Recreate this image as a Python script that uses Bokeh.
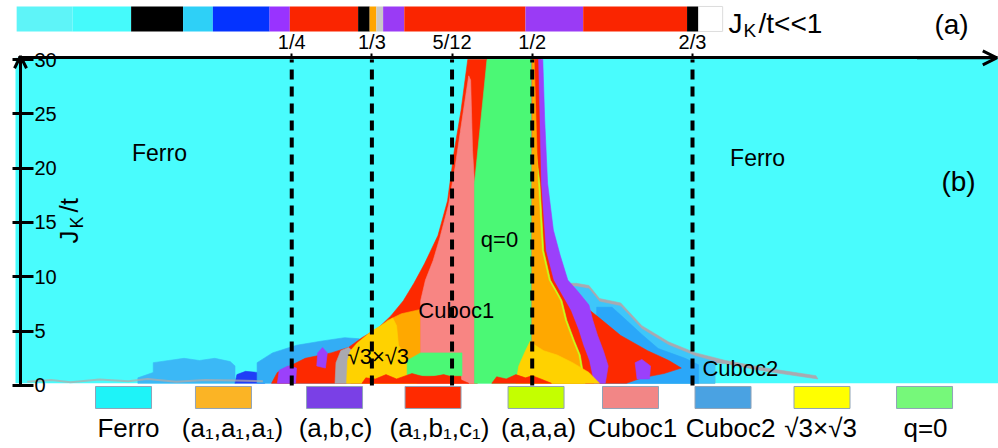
import math

from bokeh.core.properties import value
from bokeh.embed import file_html
from bokeh.models import Arrow, FixedTicker, LinearAxis, OpenHead, Range1d
from bokeh.plotting import figure
from bokeh.resources import INLINE

FONT = "Liberation Sans"

# ---------------------------------------------------------------- axes data
n_ticks = [1 / 4, 1 / 3, 5 / 12, 1 / 2, 2 / 3]
n_tick_labels = ["1/4", "1/3", "5/12", "1/2", "2/3"]
J_ticks = [0, 5, 10, 15, 20, 25, 30]
J_top = 30.15

# ------------------------------------------ (a) ground state for J_K/t << 1
bar_edges = [-0.036, 0.022, 0.083, 0.137, 0.168, 0.227, 0.248, 0.319, 0.331,
             0.338, 0.345, 0.367, 0.493, 0.553, 0.661, 0.673, 0.698]
bar_colors = ["#5ef4f8", "#45fafb", "#000000", "#2ed0f7", "#0433ff", "#9933ff",
              "#fa2500", "#000000", "#ffa500", "#c8c8c8", "#9a3bf5", "#fa2500",
              "#9a3bf5", "#fa2500", "#000000", "#ffffff"]

# ------------------------------------------- (b) phase regions, back to front
# each region: filling n (x) and J_K/t (y) of its outline
blue_far_n = [0.090, 0.090, 0.106, 0.106, 0.122, 0.138, 0.154, 0.170, 0.186, 0.191, 0.191]
blue_far_J = [0.2, 0.7, 1.2, 2.1, 2.3, 2.5, 2.3, 2.5, 2.2, 1.8, 0.2]

blue_deep_n = [0.191, 0.193, 0.202, 0.214, 0.220, 0.222]
blue_deep_J = [0.2, 1.0, 1.3, 1.2, 0.8, 0.2]

cuboc2_left_n = [0.214, 0.214, 0.230, 0.255, 0.282, 0.305, 0.320, 0.329, 0.329]
cuboc2_left_J = [0.2, 2.1, 3.0, 3.7, 4.1, 4.4, 4.3, 3.7, 0.2]

abc1_left_n = [0.433, 0.426, 0.419, 0.412, 0.402, 0.388, 0.377, 0.366, 0.353, 0.340,
               0.323, 0.309, 0.291, 0.264, 0.246, 0.235, 0.229, 0.443, 0.453]
abc1_left_J = [30.0, 25.3, 21.6, 17.0, 13.8, 11.2, 9.4, 7.8, 6.4, 5.3,
               4.4, 3.5, 3.0, 2.5, 1.7, 1.2, 0.2, 0.2, 30.0]

abc_bit1_n = [0.235, 0.237, 0.246, 0.255, 0.254]
abc_bit1_J = [0.2, 1.4, 1.8, 1.6, 0.2]
abc_bit2_n = [0.276, 0.277, 0.282, 0.287, 0.285]
abc_bit2_J = [1.8, 3.0, 3.5, 3.0, 1.6]

gray_left_n = [0.295, 0.296, 0.301, 0.309, 0.313, 0.311]
gray_left_J = [0.2, 2.1, 3.2, 3.5, 3.2, 0.2]

a1_left_n = [0.337, 0.350, 0.364, 0.384, 0.384, 0.353, 0.340]
a1_left_J = [5.1, 6.0, 6.6, 7.0, 2.3, 2.1, 3.7]

sqrt3_left_n = [0.307, 0.308, 0.311, 0.318, 0.333, 0.348, 0.355, 0.359, 0.361, 0.370, 0.379, 0.380]
sqrt3_left_J = [0.2, 2.3, 3.2, 3.9, 5.0, 5.8, 6.2, 5.5, 3.7, 2.5, 1.6, 0.2]

cuboc1_n = [0.434, 0.427, 0.420, 0.413, 0.404, 0.397, 0.389, 0.384, 0.384, 0.424,
            0.427, 0.440, 0.440, 0.438, 0.436]
cuboc1_J = [28.5, 24.4, 20.2, 16.6, 13.6, 11.5, 9.7, 7.8, 3.0, 3.0,
            0.2, 0.2, 18.6, 21.6, 28.1]

q0_n = [0.453, 0.499, 0.499, 0.440, 0.440]
q0_J = [30.0, 30.0, 0.2, 0.2, 18.6]

q0_low_n = [0.370, 0.370, 0.384, 0.427, 0.427]
q0_low_J = [0.9, 2.3, 3.0, 3.0, 0.9]

gray_tail_n = [0.546, 0.559, 0.570, 0.592, 0.614, 0.642, 0.670, 0.701, 0.743, 0.795,
               0.797, 0.743, 0.701, 0.690, 0.690, 0.537, 0.537]
gray_tail_J = [9.4, 9.2, 8.0, 7.6, 5.5, 4.0, 3.0, 2.3, 1.6, 0.9,
               0.6, 1.3, 2.0, 2.1, 0.2, 0.2, 9.4]

cuboc2_light_n = [0.546, 0.559, 0.570, 0.592, 0.614, 0.642, 0.670, 0.690, 0.690, 0.537, 0.537]
cuboc2_light_J = [9.1, 8.9, 7.7, 7.3, 5.2, 3.7, 2.7, 2.2, 0.2, 0.2, 9.1]

cuboc2_right_n = [0.567, 0.583, 0.598, 0.614, 0.631, 0.659, 0.673, 0.673, 0.567]
cuboc2_right_J = [7.2, 7.2, 6.0, 4.7, 3.4, 2.5, 1.9, 0.2, 0.2]

abc1_right_n = [0.509, 0.512, 0.518, 0.526, 0.539, 0.553, 0.570, 0.592, 0.620, 0.642,
                0.655, 0.637, 0.614, 0.598, 0.500, 0.500]
abc1_right_J = [30.0, 18.6, 13.3, 10.6, 8.7, 7.4, 6.2, 4.6, 3.2, 2.3,
                1.6, 1.1, 0.7, 0.2, 0.2, 30.0]

abc_right_n = [0.511, 0.513, 0.516, 0.522, 0.529, 0.537, 0.548, 0.559, 0.563, 0.568,
               0.574, 0.579, 0.576, 0.500, 0.500]
abc_right_J = [30.0, 24.4, 18.6, 14.3, 12.0, 9.7, 8.6, 7.4, 6.0, 4.6,
               3.2, 1.8, 0.2, 0.2, 30.0]

abc_bit3_n = [0.607, 0.614, 0.623, 0.622, 0.609]
abc_bit3_J = [2.1, 2.4, 1.8, 0.6, 0.6]

abc1_inner_n = [0.506, 0.509, 0.514, 0.522, 0.531, 0.540, 0.548, 0.553, 0.559, 0.564, 0.500, 0.500]
abc1_inner_J = [30.0, 18.6, 12.4, 9.7, 8.3, 6.9, 5.1, 3.7, 2.3, 0.2, 0.2, 30.0]

aaa_n = [0.504, 0.508, 0.512, 0.519, 0.528, 0.531, 0.536, 0.544, 0.550, 0.555, 0.500, 0.500]
aaa_J = [21.6, 18.6, 12.4, 9.7, 8.3, 7.8, 6.0, 4.1, 2.8, 0.2, 0.2, 21.6]

a1_right_n = [0.502, 0.506, 0.510, 0.517, 0.526, 0.529, 0.534, 0.542, 0.548, 0.553, 0.500, 0.500]
a1_right_J = [30.0, 18.6, 12.4, 9.7, 8.3, 7.8, 6.0, 4.1, 2.8, 0.2, 0.2, 30.0]

sqrt3_right_n = [0.483, 0.486, 0.493, 0.498, 0.503, 0.512, 0.526, 0.542, 0.559, 0.570]
sqrt3_right_J = [0.2, 1.8, 3.2, 4.1, 3.7, 3.2, 2.8, 2.1, 1.2, 0.2]

fringe_left_n = [0.323, 0.327, 0.337, 0.348, 0.359, 0.375, 0.391, 0.408, 0.424, 0.434]
fringe_left_J = [0.2, 0.7, 0.6, 1.0, 0.6, 1.1, 0.7, 1.0, 0.6, 0.2]
fringe_right_n = [0.458, 0.463, 0.473, 0.483, 0.493, 0.500, 0.509, 0.520]
fringe_right_J = [0.2, 0.8, 0.6, 1.0, 0.7, 0.9, 0.6, 0.2]

edge_n = [-0.025, 0.0, 0.02, 0.05, 0.08, 0.10, 0.13, 0.16, 0.19, 0.22]
edge_J = [0.35, 0.5, 0.3, 0.55, 0.4, 0.6, 0.35, 0.5, 0.45, 0.4]

# ------------------------------------------------------------------ legend
legend_labels = ["Ferro", "(a\u2081,a\u2081,a\u2081)", "(a,b,c)", "(a\u2081,b\u2081,c\u2081)",
                 "(a,a,a)", "Cuboc1", "Cuboc2", "\u221a3\u00d7\u221a3", "q=0"]
legend_colors = ["#1ef3f8", "#fbb425", "#7a40e6", "#ff2a00", "#c4ff00",
                 "#f28686", "#4aa2e2", "#ffff00", "#76f87a"]

# colours of the phases inside panel (b)
CYAN = "#49fcfd"
RED = "#fd2900"
PINK = "#f88583"
GREEN = "#4bf875"
ORANGE = "#ffa800"
GOLD = "#ffd200"
PURPLE = "#9b40fb"
LIME = "#c6ff1a"
BLUE = "#2aa7f9"
BLUE_LIGHT = "#3ec6fa"
BLUE_DEEP = "#1f3ff7"
GRAY = "#a9a9b0"

# ------------------------------------------------------------------ canvas
p = figure(width=998, height=448,
           x_range=Range1d(-0.0528, 0.9848), y_range=Range1d(-5.80, 35.43),
           min_border=0, toolbar_location=None, output_backend="svg",
           x_axis_location=None, y_axis_location=None)
p.outline_line_color = None
p.xgrid.grid_line_color = None
p.ygrid.grid_line_color = None
p.background_fill_color = "white"


def region(n, J, color):
    p.patch(n, J, fill_color=color, line_color=color, line_width=0.6)


def label(x, y, text, size, align="center", angle=0.0):
    p.text(x=x, y=y, text=text, angle=angle, text_align=align, text_baseline="middle",
           text_font=value(FONT), text_font_size=size, text_color="black")


# panel (a): horizontal bar of phases at small coupling
p.quad(left=bar_edges[:-1], right=bar_edges[1:], bottom=32.58, top=34.88,
       fill_color=bar_colors, line_color=None)
p.quad(left=bar_edges[-2], right=bar_edges[-1], bottom=32.58, top=34.88,
       fill_color=None, line_color="#dddddd", line_width=1)

# panel (b): ferromagnetic background and the other phases
p.quad(left=-0.0372, right=0.9848, bottom=0.2, top=J_top, fill_color=CYAN, line_color=None)

region(blue_far_n, blue_far_J, "#3bb8f6")
region(blue_deep_n, blue_deep_J, BLUE_DEEP)
region(cuboc2_left_n, cuboc2_left_J, "#33adf5")
region(abc1_left_n, abc1_left_J, RED)
region(abc_bit1_n, abc_bit1_J, PURPLE)
region(abc_bit2_n, abc_bit2_J, PURPLE)
region(gray_left_n, gray_left_J, GRAY)
region(a1_left_n, a1_left_J, ORANGE)
region(sqrt3_left_n, sqrt3_left_J, GOLD)
region(cuboc1_n, cuboc1_J, PINK)
region(q0_n, q0_J, GREEN)
region(q0_low_n, q0_low_J, GREEN)

region(gray_tail_n, gray_tail_J, GRAY)
region(cuboc2_light_n, cuboc2_light_J, BLUE_LIGHT)
region(cuboc2_right_n, cuboc2_right_J, BLUE)
region(abc1_right_n, abc1_right_J, RED)
region(abc_right_n, abc_right_J, PURPLE)
region(abc_bit3_n, abc_bit3_J, PURPLE)
region(abc1_inner_n, abc1_inner_J, RED)
region(aaa_n, aaa_J, LIME)
region(a1_right_n, a1_right_J, ORANGE)
region(sqrt3_right_n, sqrt3_right_J, GOLD)
region(fringe_left_n, fringe_left_J, RED)
region(fringe_right_n, fringe_right_J, RED)

p.line(edge_n, edge_J, line_color="#b9a9a6", line_width=2, line_alpha=0.7)

# dashed guides at the commensurate fillings
p.segment(x0=n_ticks, y0=0, x1=n_ticks, y1=30, line_color="black",
          line_width=4, line_dash="10 7")

# filling axis along the top of panel (b)
xaxis = LinearAxis(fixed_location=J_top, ticker=FixedTicker(ticks=n_ticks),
                   bounds=(-0.034, 0.984))
xaxis.major_label_overrides = dict(zip(n_ticks, n_tick_labels))
xaxis.axis_line_width = 3
xaxis.major_tick_line_width = 2
xaxis.major_tick_in = 0
xaxis.major_tick_out = 4
xaxis.minor_tick_out = 0
xaxis.minor_tick_in = 0
xaxis.major_label_standoff = 1
xaxis.major_label_text_font = FONT
xaxis.major_label_text_font_size = "20px"
xaxis.major_label_text_color = "black"
p.add_layout(xaxis, "above")
p.add_layout(Arrow(end=OpenHead(size=14, line_width=3, line_color="black"),
                   x_start=0.90, y_start=J_top, x_end=0.983, y_end=J_top,
                   line_width=3, line_color="black"))

# coupling axis, labels on the inner side
yaxis = LinearAxis(fixed_location=-0.032, ticker=FixedTicker(ticks=J_ticks), bounds=(0, 30))
yaxis.axis_line_width = 3
yaxis.major_tick_line_width = 3
yaxis.major_tick_in = 8
yaxis.major_tick_out = 13
yaxis.minor_tick_out = 0
yaxis.minor_tick_in = 0
yaxis.major_label_standoff = 1
yaxis.major_label_text_font = FONT
yaxis.major_label_text_font_size = "20px"
yaxis.major_label_text_color = "black"
p.add_layout(yaxis, "right")
p.add_layout(Arrow(end=OpenHead(size=12, line_width=3, line_color="black"),
                   x_start=-0.032, y_start=28.0, x_end=-0.032, y_end=30.3,
                   line_width=3, line_color="black"))

# axis title J_K/t, written bottom to top
label([0.0179], [13.07], ["J"], "26px", "left", math.pi / 2)
label([0.0270], [14.45], ["K"], "18px", "left", math.pi / 2)
label([0.0179], [15.92], ["/t"], "26px", "left", math.pi / 2)

# panel captions
label([0.7041], [33.31], ["J"], "28px", "left")
label([0.7197], [32.69], ["K"], "19px", "left")
label([0.7353], [33.31], ["/t<<1"], "28px", "left")
label([0.936, 0.9432], [33.22, 18.77], ["(a)", "(b)"], "28px")

# phase names inside panel (b)
label([0.1125, 0.7343], [21.4, 20.9], ["Ferro", "Ferro"], "23px")
label([0.421, 0.466, 0.340], [6.9, 13.4, 2.67], ["Cuboc1", "q=0", "\u221a3\u00d7\u221a3"], "22px")
label([0.677], [1.56], ["Cuboc2"], "22px", "left")

# legend row under the diagram
swatch_x = [0.0751, 0.1790, 0.2945, 0.3969, 0.5040, 0.6022, 0.6984, 0.8013, 0.9079]
label_x = [0.0803, 0.1884, 0.2955, 0.4036, 0.5066, 0.6043, 0.7062, 0.7998, 0.9089]
p.rect(x=swatch_x, y=-1.104, width=56, height=22, width_units="screen", height_units="screen",
       fill_color=legend_colors, line_color="#8fa3b8", line_width=1)
label(label_x, [-3.957] * len(label_x), legend_labels, "26px")

open("out.html", "w").write(file_html(p, INLINE))
